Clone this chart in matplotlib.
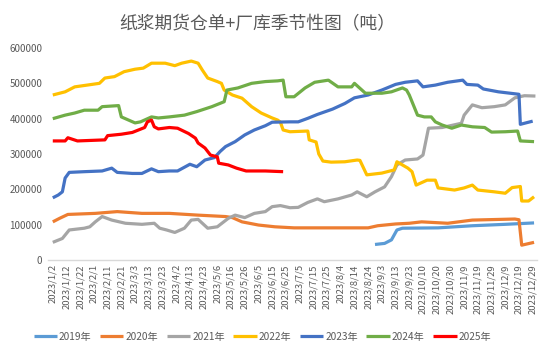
import datetime as dt
import matplotlib
matplotlib.use("Agg")
import matplotlib.pyplot as plt

plt.rcParams['font.family'] = ['Noto Sans CJK SC', 'DejaVu Sans']

title = "纸浆期货仓单+厂库季节性图（吨）"

# category axis: calendar days of 2023 (holidays removed)
skip = {dt.date(2023, 4, 5), dt.date(2023, 5, 1), dt.date(2023, 5, 2), dt.date(2023, 5, 3)}
skip |= {dt.date(2023, 9, 29) + dt.timedelta(days=i) for i in range(7)}
categories = []
d = dt.date(2023, 1, 2)
while d <= dt.date(2023, 12, 31):
    if d not in skip:
        categories.append(f"{d.year}/{d.month}/{d.day}")
    d += dt.timedelta(days=1)

# series: category index -> value (tons)
x2019 = [235, 242, 247, 251, 255, 281, 306, 330, 351]
y2019 = [44000, 47000, 57000, 85000, 90000, 91000, 97000, 101000, 105000]

x2020 = [0, 5, 11, 31, 47, 65, 85, 106, 126, 131, 138, 150, 162, 176, 230, 237, 250, 260, 269, 288, 306, 337, 340, 342, 351]
y2020 = [108000, 118000, 129000, 132000, 137000, 132000, 132000, 127000, 123000, 120000, 108000, 99000, 94000, 91000,
         91000, 97000, 102000, 104000, 108000, 104000, 113000, 116000, 114000, 42000, 50000]

x2021 = [0, 7, 12, 23, 27, 31, 36, 43, 53, 65, 74, 78, 83, 89, 96, 101, 106, 113, 120, 128, 133, 140, 147, 155, 160,
         166, 173, 179, 186, 193, 198, 208, 218, 222, 229, 235, 242, 247, 251, 257, 266, 270, 274, 284, 298, 300, 306,
         313, 322, 330, 337, 344, 352]
y2021 = [50000, 61000, 85000, 90000, 94000, 108000, 123000, 113000, 104000, 101000, 104000, 90000, 85000, 78000,
         90000, 113000, 115000, 90000, 94000, 118000, 127000, 120000, 132000, 137000, 151000, 154000, 148000, 149000,
         163000, 173000, 165000, 173000, 184000, 193000, 179000, 193000, 207000, 236000, 269000, 283000, 286000,
         297000, 373000, 375000, 387000, 410000, 439000, 431000, 434000, 439000, 459000, 465000, 464000]

x2022 = [0, 9, 16, 25, 34, 38, 45, 52, 60, 66, 72, 82, 89, 94, 101, 106, 109, 113, 120, 123, 125, 131, 138, 145, 152,
         160, 164, 166, 168, 173, 186, 187, 192, 194, 197, 203, 213, 222, 224, 229, 240, 249, 251, 259, 262, 265, 273,
         279, 281, 293, 300, 306, 310, 322, 330, 335, 341, 342, 347, 351]
y2022 = [467000, 476000, 490000, 495000, 500000, 515000, 519000, 533000, 540000, 543000, 557000, 557000, 550000,
         557000, 563000, 557000, 538000, 515000, 505000, 500000, 481000, 467000, 458000, 434000, 416000, 402000,
         396000, 390000, 368000, 363000, 365000, 340000, 334000, 300000, 280000, 277000, 278000, 283000, 282000,
         241000, 246000, 255000, 278000, 260000, 250000, 212000, 226000, 226000, 204000, 198000, 204000, 212000,
         198000, 193000, 189000, 205000, 208000, 167000, 167000, 179000]

x2023 = [0, 4, 7, 9, 12, 23, 36, 43, 47, 58, 65, 72, 77, 85, 91, 100, 105, 111, 118, 122, 126, 133, 140, 147, 155,
         160, 173, 179, 186, 193, 204, 213, 220, 230, 240, 250, 257, 266, 270, 279, 288, 299, 302, 310, 314, 325, 340,
         341, 350]
y2023 = [176000, 184000, 193000, 232000, 248000, 250000, 252000, 260000, 248000, 245000, 245000, 258000, 250000,
         252000, 252000, 271000, 264000, 283000, 290000, 307000, 321000, 335000, 354000, 368000, 380000, 390000,
         391000, 391000, 401000, 412000, 427000, 443000, 459000, 467000, 481000, 497000, 503000, 507000, 490000,
         495000, 503000, 509000, 497000, 495000, 484000, 476000, 469000, 384000, 393000]

x2024 = [0, 9, 16, 23, 33, 36, 48, 50, 60, 64, 72, 77, 85, 96, 105, 116, 125, 127, 135, 145, 155, 164, 168, 170, 176,
         184, 191, 201, 208, 218, 220, 228, 240, 247, 255, 258, 260, 266, 271, 276, 279, 284, 291, 298, 306, 315, 320,
         330, 339, 341, 351]
y2024 = [400000, 410000, 416000, 424000, 424000, 434000, 437000, 405000, 388000, 391000, 405000, 402000, 405000,
         410000, 420000, 434000, 448000, 481000, 487000, 500000, 505000, 507000, 509000, 462000, 462000, 487000,
         503000, 509000, 490000, 490000, 500000, 472000, 472000, 476000, 487000, 481000, 467000, 410000, 405000,
         405000, 391000, 382000, 373000, 382000, 377000, 375000, 362000, 363000, 365000, 337000, 335000]

x2025 = [0, 9, 11, 18, 38, 40, 50, 58, 67, 69, 72, 74, 77, 85, 91, 99, 104, 106, 111, 115, 120, 121, 128, 134, 141,
         155, 168]
y2025 = [337000, 337000, 346000, 337000, 340000, 352000, 356000, 361000, 375000, 391000, 396000, 377000, 371000,
         375000, 373000, 358000, 345000, 331000, 317000, 297000, 292000, 274000, 269000, 260000, 252000, 252000,
         250000]

series = [
    ("2019年", x2019, y2019, "#5B9BD5"),
    ("2020年", x2020, y2020, "#ED7D31"),
    ("2021年", x2021, y2021, "#A5A5A5"),
    ("2022年", x2022, y2022, "#FFC000"),
    ("2023年", x2023, y2023, "#4472C4"),
    ("2024年", x2024, y2024, "#70AD47"),
    ("2025年", x2025, y2025, "#FF0000"),
]

fig = plt.figure(figsize=(5.5, 3.54), dpi=100)
ax = fig.add_axes([0.087, 0.2655, 0.889, 0.5989])

for name, xs, ys, c in series:
    ax.plot(xs, ys, color=c, lw=2.3, label=name, solid_capstyle="butt")

ax.set_ylim(0, 600000)
ax.set_yticks(range(0, 600001, 100000))
ax.set_xlim(-3.6, 353)
tick_idx = list(range(0, len(categories), 10))
ax.set_xticks(tick_idx)
ax.set_xticklabels([categories[i] for i in tick_idx], rotation=90, fontsize=6.8, color="#595959")
ax.tick_params(axis="y", labelsize=7, colors="#595959", length=0, pad=4)
ax.tick_params(axis="x", length=0, pad=3)
for s in ["left", "right", "top"]:
    ax.spines[s].set_visible(False)
ax.spines["bottom"].set_color("#D9D9D9")
ax.spines["bottom"].set_linewidth(1)

fig.text(0.467, 0.93, title, ha="center", va="center", fontsize=12.8, color="#595959")

leg = fig.legend(loc="center", bbox_to_anchor=(0.477, 0.048), ncol=7, frameon=False, fontsize=7.3,
                 handlelength=2.3, handletextpad=0.2, columnspacing=0.85)
for t in leg.get_texts():
    t.set_color("#595959")

fig.savefig("out.png", dpi=100)
